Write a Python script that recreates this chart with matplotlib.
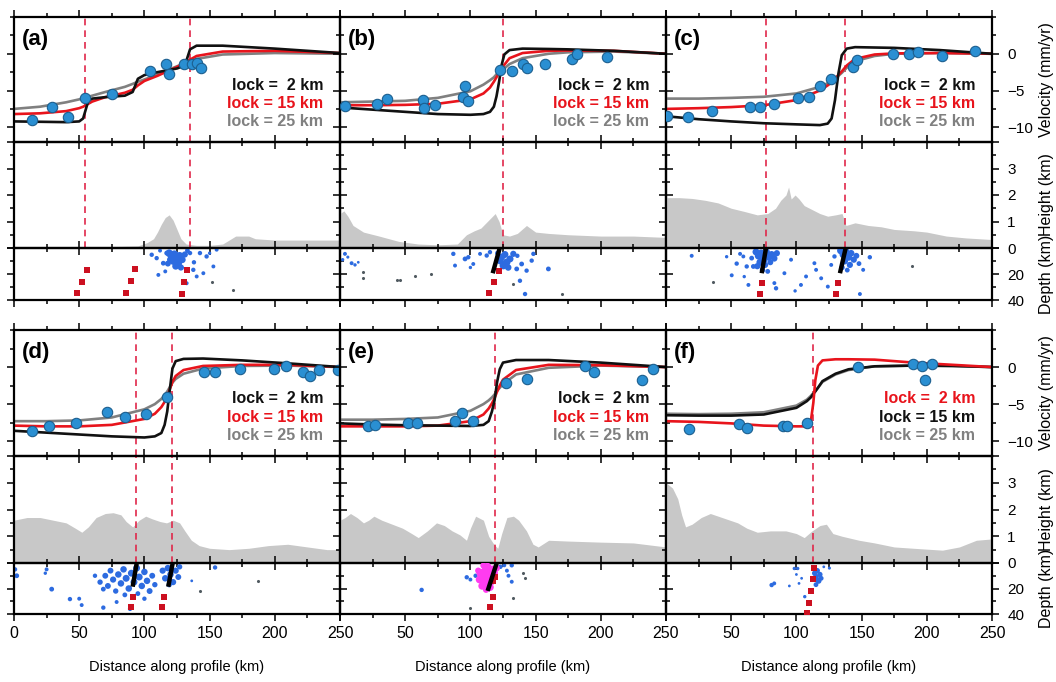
import matplotlib
matplotlib.use("Agg")
import matplotlib.pyplot as plt
from matplotlib.ticker import MultipleLocator, FixedLocator, FuncFormatter

plt.rcParams['font.family'] = ['Liberation Sans', 'DejaVu Sans']

# ------------------------------------------------------------------
# GPS velocities projected on each profile (distance km, velocity mm/yr)
# ------------------------------------------------------------------
gps_a_x = [13.5, 28.9, 41.7, 54.4, 74.9, 104.3, 116.3, 118.9, 130.6, 136.3, 140.6, 143.2]
gps_a_v = [-9.0, -7.3, -8.6, -6.0, -5.5, -2.3, -1.4, -2.8, -1.4, -1.35, -1.2, -2.0]
gps_b_x = [3.8, 28.1, 35.8, 63.9, 64.7, 72.9, 94.6, 95.9, 98.4, 122.7, 131.7, 140.6, 143.6, 157.2, 177.7, 181.5, 204.5]
gps_b_v = [-7.1, -6.8, -6.2, -6.3, -7.4, -7.0, -5.9, -4.4, -6.4, -2.2, -2.3, -1.35, -2.0, -1.45, -0.7, 0.0, -0.45]
gps_c_x = [0.5, 17.1, 35.0, 64.4, 72.1, 83.1, 101.5, 109.7, 118.1, 126.3, 143.7, 146.2, 174.3, 186.6, 193.5, 211.4, 237.0]
gps_c_v = [-8.5, -8.6, -7.8, -7.2, -7.2, -6.9, -5.95, -5.85, -4.4, -3.4, -1.8, -0.9, -0.1, -0.1, 0.2, -0.25, 0.35]
gps_d_x = [13.6, 27.1, 47.5, 71.1, 85.1, 101.2, 117.6, 145.7, 154.1, 173.3, 199.4, 208.6, 221.9, 227.0, 234.1, 248.7]
gps_d_v = [-8.6, -7.9, -7.5, -6.0, -6.7, -6.4, -4.1, -0.6, -0.6, -0.3, -0.25, 0.2, -0.6, -1.15, -0.45, -0.45]
gps_e_x = [21.7, 26.8, 52.4, 58.8, 88.2, 93.3, 102.2, 127.3, 143.2, 187.9, 194.8, 231.3, 239.8]
gps_e_v = [-7.9, -7.75, -7.6, -7.5, -7.3, -6.2, -7.3, -2.15, -1.6, 0.1, -0.6, -1.8, -0.3]
gps_f_x = [17.9, 56.2, 61.9, 89.5, 92.5, 107.9, 147.5, 189.7, 196.1, 198.6, 203.7]
gps_f_v = [-8.4, -7.65, -8.2, -7.9, -8.0, -7.5, -0.05, 0.4, 0.1, -1.7, 0.4]

# ------------------------------------------------------------------
# Model velocity profiles for locking depths 2, 15 and 25 km
# ------------------------------------------------------------------
a_x = [0, 20, 40, 50, 53, 55, 57, 60, 70, 85, 91, 93, 95, 100, 110, 125, 131, 133, 135, 140, 160, 200, 250]
a_lock2 = [-9.2, -9.25, -9.3, -9.2, -8.8, -7.6, -6.4, -6.1, -5.9, -5.7, -5.2, -4.3, -3.4, -2.9, -2.5, -2.0, -1.6, -0.5, 0.6, 1.1, 1.1, 0.7, 0.1]
a_lock15 = [-8.2, -8.1, -7.8, -7.4, -7.2, -7.0, -6.8, -6.5, -5.9, -5.3, -4.9, -4.6, -4.3, -3.7, -3.0, -1.8, -1.2, -1.0, -0.8, -0.3, 0.3, 0.4, 0.1]
a_lock25 = [-7.5, -7.2, -6.6, -6.2, -6.05, -5.95, -5.85, -5.7, -5.2, -4.5, -4.1, -3.95, -3.8, -3.5, -2.8, -1.7, -1.3, -1.1, -1.0, -0.7, -0.1, 0.1, 0.0]

b_x = [0, 25, 50, 75, 100, 110, 115, 118, 120, 122, 124, 126, 130, 140, 160, 175, 210, 250]
b_lock2 = [-7.3, -7.6, -7.9, -8.2, -8.3, -8.2, -7.9, -7.2, -5.8, -3.8, -1.5, -0.1, 0.5, 0.7, 0.65, 0.6, 0.4, 0.0]
b_lock15 = [-7.0, -7.0, -6.95, -6.8, -6.2, -5.4, -4.6, -3.8, -3.2, -2.6, -2.0, -1.5, -0.6, 0.1, 0.4, 0.45, 0.4, 0.0]
b_lock25 = [-6.6, -6.5, -6.4, -6.0, -5.1, -4.2, -3.6, -3.2, -2.8, -2.5, -2.3, -2.0, -1.4, -0.6, 0.0, 0.2, 0.3, 0.0]

c_x = [0, 25, 50, 75, 100, 118, 124, 127, 129.6, 132.2, 134.8, 138.6, 145, 160, 175, 210, 250]
c_lock2 = [-8.5, -8.9, -9.2, -9.45, -9.6, -9.7, -9.5, -8.8, -6.3, -2.7, -0.2, 0.7, 0.9, 0.85, 0.8, 0.5, 0.0]
c_lock15 = [-7.5, -7.4, -7.25, -7.0, -6.3, -5.0, -4.3, -3.9, -3.4, -2.9, -2.4, -1.6, -0.7, -0.1, 0.05, 0.1, 0.0]
c_lock25 = [-6.1, -6.1, -6.0, -5.85, -5.4, -4.5, -4.0, -3.7, -3.4, -3.0, -2.6, -1.9, -1.0, -0.3, 0.0, 0.1, 0.0]

d_x = [0, 25, 50, 75, 100, 108, 113, 115.5, 117.5, 119.5, 121.5, 124, 130, 145, 175, 210, 250]
d_lock2 = [-8.6, -8.85, -9.1, -9.35, -9.5, -9.35, -8.9, -7.8, -6.0, -3.0, -0.2, 0.8, 1.1, 1.15, 0.9, 0.5, 0.0]
d_lock15 = [-7.9, -8.0, -8.0, -7.8, -7.0, -6.3, -5.4, -4.7, -4.0, -3.0, -2.0, -1.2, -0.4, 0.15, 0.3, 0.3, 0.0]
d_lock25 = [-7.3, -7.3, -7.2, -6.8, -5.7, -5.0, -4.3, -3.8, -3.3, -2.7, -2.1, -1.6, -0.9, -0.2, 0.15, 0.2, 0.0]

e_x = [0, 25, 50, 75, 100, 110, 114, 116.5, 118.5, 120.5, 122.5, 125, 135, 160, 200, 250]
e_lock2 = [-7.6, -7.75, -7.85, -7.9, -7.95, -7.8, -7.3, -6.0, -4.5, -2.0, -0.3, 0.6, 0.95, 0.95, 0.6, 0.0]
e_lock15 = [-8.0, -8.0, -8.0, -7.9, -7.3, -6.4, -5.6, -4.9, -4.2, -3.3, -2.5, -1.7, -0.4, 0.3, 0.25, 0.0]
e_lock25 = [-7.1, -7.1, -7.0, -6.8, -5.9, -5.0, -4.5, -4.1, -3.7, -3.2, -2.8, -2.3, -1.0, -0.1, 0.2, 0.0]

f_x = [0, 25, 50, 75, 100, 108, 111, 113, 114.5, 116.5, 120, 130, 140, 160, 190, 220, 250]
f_lock2 = [-7.3, -7.4, -7.6, -7.9, -8.0, -8.0, -7.4, -4.8, -1.8, 0.2, 0.9, 1.05, 1.05, 1.0, 0.6, 0.3, 0.0]
f_lock15 = [-6.5, -6.55, -6.55, -6.4, -5.5, -4.6, -4.1, -3.6, -3.3, -2.8, -1.9, -0.9, -0.3, 0.1, 0.2, 0.15, 0.0]
f_lock25 = [-6.3, -6.35, -6.3, -6.1, -5.2, -4.4, -3.9, -3.5, -3.2, -2.8, -2.0, -1.0, -0.4, 0.1, 0.2, 0.15, 0.0]

# Surface traces of the faults (km along profile)
dash_a = [54.4, 135.0]
dash_b = [125.3]
dash_c = [76.4, 137.5]
dash_d = [93.6, 121.4]
dash_e = [118.9]
dash_f = [113.0]

# ------------------------------------------------------------------
# Topography along each profile (distance km, height km)
# ------------------------------------------------------------------
topo_a_x = [0, 20, 40, 60, 80, 95, 102, 107, 110, 113, 116, 119, 122, 125, 128, 132, 140, 150, 160, 165, 170, 180, 185, 200, 225, 250]
topo_a_h = [0.05, 0.04, 0.05, 0.05, 0.06, 0.08, 0.2, 0.35, 0.6, 0.9, 1.15, 1.25, 1.05, 0.7, 0.35, 0.15, 0.1, 0.1, 0.15, 0.3, 0.45, 0.45, 0.35, 0.3, 0.3, 0.3]
topo_b_x = [0, 3, 6, 10, 18, 30, 45, 60, 75, 90, 97, 103, 108, 113, 117, 119, 122, 125, 130, 136, 143, 150, 160, 175, 200, 225, 250]
topo_b_h = [1.3, 1.4, 1.2, 0.85, 0.6, 0.45, 0.25, 0.15, 0.12, 0.15, 0.5, 0.65, 0.75, 1.0, 1.2, 1.3, 1.0, 0.5, 0.45, 0.55, 0.85, 0.6, 0.55, 0.5, 0.45, 0.45, 0.4]
topo_c_x = [0, 10, 20, 30, 40, 50, 60, 70, 78, 84, 88, 92, 94, 96, 99, 102, 106, 112, 118, 124, 130, 135, 138, 145, 155, 165, 175, 190, 200, 215, 230, 250]
topo_c_h = [1.9, 1.9, 1.87, 1.8, 1.7, 1.5, 1.38, 1.25, 1.3, 1.5, 1.8, 2.0, 2.3, 1.85, 2.0, 1.85, 1.6, 1.45, 1.3, 1.2, 1.25, 1.3, 0.85, 0.95, 0.85, 0.8, 0.7, 0.65, 0.6, 0.45, 0.38, 0.32]
topo_d_x = [0, 10, 20, 30, 40, 47, 52, 57, 63, 70, 76, 82, 86, 91, 96, 101, 106, 112, 117, 122, 127, 131, 136, 142, 150, 165, 180, 195, 210, 225, 240, 250]
topo_d_h = [1.6, 1.7, 1.7, 1.6, 1.5, 1.3, 1.15, 1.35, 1.7, 1.85, 1.88, 1.8, 1.55, 1.35, 1.6, 1.75, 1.65, 1.55, 1.5, 1.6, 1.5, 1.2, 0.85, 0.65, 0.55, 0.5, 0.55, 0.65, 0.7, 0.6, 0.5, 0.5]
topo_e_x = [0, 4, 8, 13, 18, 22, 26, 32, 40, 48, 55, 60, 67, 74, 80, 86, 92, 97, 100, 104, 110, 114, 118, 121, 124, 128, 133, 137, 143, 148, 152, 160, 175, 200, 225, 250]
topo_e_h = [1.6, 1.7, 1.85, 1.7, 1.5, 1.6, 1.75, 1.6, 1.45, 1.3, 1.1, 0.95, 1.2, 1.5, 1.4, 1.2, 1.05, 0.85, 1.3, 1.75, 1.6, 1.0, 0.7, 0.55, 1.1, 1.7, 1.75, 1.6, 1.2, 0.7, 0.6, 0.85, 0.82, 0.78, 0.75, 0.6]
topo_f_x = [0, 5, 9, 12, 15, 20, 27, 34, 40, 46, 55, 62, 70, 80, 92, 100, 106, 112, 118, 123, 128, 135, 148, 160, 175, 190, 212, 225, 238, 250]
topo_f_h = [3.0, 2.8, 2.4, 1.8, 1.35, 1.45, 1.7, 1.85, 1.75, 1.65, 1.5, 1.3, 1.15, 1.2, 1.2, 1.1, 0.95, 1.2, 1.4, 1.45, 1.1, 1.0, 0.85, 0.75, 0.6, 0.55, 0.48, 0.6, 0.85, 0.9]

# ------------------------------------------------------------------
# Seismicity (distance km, depth km, marker size pt^2)
# ------------------------------------------------------------------
qa_x = [119, 121, 123, 125, 122, 127, 126, 124, 129, 120, 131, 128, 118,
        105.6, 109.4, 110.7, 114.5, 117.1, 112, 135, 137.5, 140.1, 142.6, 145.2, 147.7, 152.9, 155.4, 132.4, 138, 133, 116, 150]
qa_d = [4, 6, 5, 8, 10, 6, 12, 14, 9, 9, 5, 15, 12,
        5.2, 7.8, 20.7, 11.7, 3.9, 2, 3.9, 16.8, 21.9, 3.9, 19.4, 6.5, 14.2, 1.3, 27.1, 11, 2, 18, 4]
qa_s = [30, 35, 35, 35, 30, 30, 28, 25, 25, 25, 20, 20, 18,
        10, 10, 8, 12, 12, 8, 10, 10, 8, 10, 8, 10, 8, 8, 8, 10, 12, 8, 6]
qa_dark_x = [168.2, 151.6]
qa_dark_d = [32.3, 25.8]

qb_x = [3.8, 8.9, 11.5, 2, 6, 14, 86.9, 88.2, 95.9, 98.4, 102.2, 107.4, 112.5, 115, 100,
        122.7, 125.3, 127.8, 130.4, 132.9, 126.5, 124, 129, 121, 135.5, 138, 139.3, 141.9, 143.1, 147, 148.3, 159.8, 136]
qb_d = [4.5, 11.7, 13, 9, 7, 11, 4.5, 13.5, 8.4, 7.1, 12.3, 4.5, 5.8, 3.2, 15,
        9.7, 13.5, 11, 8.4, 4.5, 5, 7, 15, 4, 16.1, 25.2, 12.3, 35.4, 17.4, 9.7, 4.5, 16.1, 6]
qb_s = [8, 8, 6, 6, 5, 4, 10, 8, 12, 10, 8, 8, 10, 10, 6,
        28, 30, 30, 25, 20, 25, 25, 22, 15, 12, 10, 12, 10, 10, 10, 10, 12, 10]
qb_dark_x = [17.9, 17.9, 43.5, 46, 57.5, 70, 170, 132.9]
qb_dark_d = [18.1, 23.3, 24.6, 24.6, 21.4, 20, 35.4, 27.8]

qc_x = [19.7, 46.5, 50.4, 54.2, 56.8, 59.3, 61.9, 63.2, 65.7, 67,
        69, 71, 73, 75, 72, 77, 79, 81, 83, 85, 70, 76, 80, 74, 78,
        84.4, 83.1, 90.8, 95.9, 103.5, 107.4, 113.8, 115.1, 119, 124.1, 126.7, 129.2,
        134, 136, 138, 140, 137, 142, 144, 141, 135, 146, 139, 148,
        148.7, 156.3, 151.2, 60, 99]
qc_d = [6, 6.7, 21, 12, 4.5, 6.5, 14.2, 28.4, 7.8, 14.2,
        3, 6, 4, 9, 11, 3, 7, 5, 8, 4, 14, 13, 11, 17, 18,
        31, 27, 19.4, 9, 28.4, 21.9, 11.7, 16.8, 23.3, 29.7, 13, 6.5,
        2, 5, 3, 7, 10, 4, 9, 13, 15, 6, 17, 12,
        35.4, 7.1, 16.8, 22, 33]
qc_s = [8, 6, 8, 10, 8, 8, 10, 8, 12, 12,
        25, 30, 28, 30, 25, 25, 25, 25, 22, 20, 20, 20, 18, 15, 12,
        10, 8, 8, 8, 8, 8, 8, 8, 8, 8, 8, 10,
        28, 30, 28, 28, 25, 22, 20, 20, 15, 18, 12, 12,
        8, 10, 8, 6, 6]
qc_dark_x = [36.3, 188.5]
qc_dark_d = [26, 14.2]

qd_x = [0.8, 2.1, 25, 24, 28.9, 42.9, 51.9, 50, 62.1, 68.5, 68.5,
        66, 70, 72, 74, 76, 78, 80, 82, 84, 86, 88, 90, 92, 94, 96, 98, 100, 102, 104, 106, 108, 85, 95, 78.7, 100, 89,
        114, 116, 118, 120, 122, 124, 126, 127, 119, 154.2, 136.3]
qd_d = [5, 10, 5, 8, 20.5, 28.3, 33, 28, 10, 35, 20.5,
        15, 10, 18, 6, 13, 22, 9, 16, 5, 12, 20, 8, 15, 4, 11, 18, 7, 14, 22, 10, 17, 25, 24, 30.6, 28, 36,
        6, 12, 4, 9, 15, 6, 11, 3, 17, 3.5, 14]
qd_s = [10, 12, 8, 6, 12, 10, 8, 8, 10, 10, 12,
        15, 18, 18, 18, 20, 15, 22, 22, 22, 25, 22, 25, 25, 25, 25, 22, 22, 22, 18, 18, 15, 12, 12, 8, 10, 10,
        20, 22, 22, 22, 20, 20, 18, 15, 15, 10, 4]
qd_dark_x = [142.6, 187.4]
qd_dark_d = [22, 14.4]

qe_mag_x = [108, 110, 112, 114, 111, 116, 113, 109, 118, 107, 115, 120, 112, 117, 106, 110]
qe_mag_d = [8, 12, 6, 10, 16, 14, 3, 18, 8, 13, 19, 4, 21, 5, 6, 2]
qe_mag_s = [40, 45, 45, 45, 40, 40, 35, 30, 35, 30, 30, 25, 20, 30, 20, 20]
qe_red_x = [117, 119]
qe_red_d = [14, 11]
qe_x = [97.2, 100, 104, 123, 126, 131.7, 129.2, 131.7, 128, 62.6]
qe_d = [11.2, 13, 10, 3, 1.8, 1.8, 10, 14.7, 6, 21.1]
qe_s = [10, 8, 10, 10, 8, 10, 8, 8, 8, 10]
qe_dark_x = [140.6, 141.5, 133, 99.7]
qe_dark_d = [8, 12, 27.6, 35.3]

qf_x = [81, 83, 98.4, 101, 100, 104, 106.4, 94.6, 102,
        114, 115, 116, 117, 118, 115, 119, 113, 125.3, 121]
qf_d = [17.3, 16, 4.3, 4.3, 9, 12, 26.4, 18, 16,
        8, 11, 6, 14, 9, 17, 12, 13, 4, 3]
qf_s = [10, 8, 6, 6, 4, 4, 6, 4, 4,
        15, 18, 15, 18, 15, 12, 12, 10, 5, 4]

# Fault geometry: locked (black) segments as (x_top, depth_top, x_bottom, depth_bottom)
lock_a = []
lock_b = [(122.5, 0.0, 117.1, 19.4)]
lock_c = [(76.7, 0.0, 73.4, 19.4), (137.8, 0.0, 133.4, 19.4)]
lock_d = [(94.1, 0.0, 91.0, 18.6), (121.7, 0.0, 118.3, 18.6)]
lock_e = [(120.2, 0.0, 113.2, 21.9)]
lock_f = []
# Creeping fault patches at depth (distance km, depth km)
creep_a_x = [56.2, 52.2, 48.1, 92.8, 89.4, 85.9, 132.4, 130.5, 128.6]
creep_a_d = [16.8, 25.8, 34.9, 16.3, 25.6, 34.9, 16.8, 26.1, 35.4]
creep_b_x = [122.3, 118.1, 114.5]
creep_b_d = [17.4, 25.9, 34.4]
creep_c_x = [73.9, 72.1, 132.2, 130.4]
creep_c_d = [26.6, 35.1, 26.9, 35.1]
creep_d_x = [91.0, 89.5, 115.3, 113.7]
creep_d_d = [26.4, 34.9, 26.4, 34.9]
creep_e_x = [117.0, 115.4]
creep_e_d = [26.4, 34.9]
creep_f_x = [113.5, 112.5, 111.0, 109.7, 107.9]
creep_f_d = [4.3, 12.9, 21.6, 31.0, 39.0]

BLACK = '#111111'
RED = '#e8141c'
GRAY = '#808080'
BLUE_GPS = '#2a8fd2'
BLUE_EQ = '#2d6be0'
TOPO = '#c8c8c8'
DASH = '#e0284a'
CREEP = '#cc1020'

panels = [
    dict(tag='(a)', gx=gps_a_x, gv=gps_a_v, cx=a_x, curves=(a_lock2, a_lock15, a_lock25), cols=(BLACK, RED, GRAY),
         dash=dash_a, tx=topo_a_x, th=topo_a_h, q=(qa_x, qa_d, qa_s), qd=(qa_dark_x, qa_dark_d),
         lock=lock_a, creep=(creep_a_x, creep_a_d)),
    dict(tag='(b)', gx=gps_b_x, gv=gps_b_v, cx=b_x, curves=(b_lock2, b_lock15, b_lock25), cols=(BLACK, RED, GRAY),
         dash=dash_b, tx=topo_b_x, th=topo_b_h, q=(qb_x, qb_d, qb_s), qd=(qb_dark_x, qb_dark_d),
         lock=lock_b, creep=(creep_b_x, creep_b_d)),
    dict(tag='(c)', gx=gps_c_x, gv=gps_c_v, cx=c_x, curves=(c_lock2, c_lock15, c_lock25), cols=(BLACK, RED, GRAY),
         dash=dash_c, tx=topo_c_x, th=topo_c_h, q=(qc_x, qc_d, qc_s), qd=(qc_dark_x, qc_dark_d),
         lock=lock_c, creep=(creep_c_x, creep_c_d)),
    dict(tag='(d)', gx=gps_d_x, gv=gps_d_v, cx=d_x, curves=(d_lock2, d_lock15, d_lock25), cols=(BLACK, RED, GRAY),
         dash=dash_d, tx=topo_d_x, th=topo_d_h, q=(qd_x, qd_d, qd_s), qd=(qd_dark_x, qd_dark_d),
         lock=lock_d, creep=(creep_d_x, creep_d_d)),
    dict(tag='(e)', gx=gps_e_x, gv=gps_e_v, cx=e_x, curves=(e_lock2, e_lock15, e_lock25), cols=(BLACK, RED, GRAY),
         dash=dash_e, tx=topo_e_x, th=topo_e_h, q=(qe_x, qe_d, qe_s), qd=(qe_dark_x, qe_dark_d),
         lock=lock_e, creep=(creep_e_x, creep_e_d)),
    dict(tag='(f)', gx=gps_f_x, gv=gps_f_v, cx=f_x, curves=(f_lock2, f_lock15, f_lock25), cols=(RED, BLACK, GRAY),
         dash=dash_f, tx=topo_f_x, th=topo_f_h, q=(qf_x, qf_d, qf_s), qd=([], []),
         lock=lock_f, creep=(creep_f_x, creep_f_d)),
]
lock_labels = ['lock =  2 km', 'lock = 15 km', 'lock = 25 km']

W, H = 1056, 682
col_left = [14, 340, 666]
col_width = 326
# pixel rows: (velocity top, velocity bottom/height top, height bottom/depth top, depth bottom)
row_px = [(17, 142, 248, 300), (330, 456, 563, 614)]


def box(x0, y0, y1):
    return [x0 / W, 1 - y1 / H, col_width / W, (y1 - y0) / H]


def frame(ax):
    for s in ax.spines.values():
        s.set_linewidth(1.6)
    ax.set_facecolor('none')
    ax.tick_params(which='both', direction='out', top=True, right=True, bottom=True, left=True,
                   labelbottom=False, labelleft=False, labeltop=False, labelright=False,
                   width=1.1, labelsize=11.5)
    ax.tick_params(which='major', length=5, pad=4)
    ax.tick_params(which='minor', length=3)
    ax.set_xlim(0, 250)
    ax.xaxis.set_major_locator(MultipleLocator(50))
    ax.xaxis.set_minor_locator(MultipleLocator(25))


fig = plt.figure(figsize=(W / 100, H / 100), dpi=100)

for i, p in enumerate(panels):
    r, c = divmod(i, 3)
    y_v0, y_v1, y_h1, y_d1 = row_px[r]
    x0 = col_left[c]

    # --- velocity profile ---
    axv = fig.add_axes(box(x0, y_v0, y_v1))
    frame(axv)
    axv.set_ylim(-12, 5)
    axv.yaxis.set_major_locator(FixedLocator([-10, -5, 0]))
    axv.yaxis.set_minor_locator(MultipleLocator(2.5))
    for xf in p['dash']:
        axv.axvline(xf, color=DASH, lw=1.2, ls=(0, (4, 3)), zorder=1)
    for k in (2, 1, 0):
        axv.plot(p['cx'], p['curves'][k], color=p['cols'][k], lw=1.9, zorder=2 + (2 - k) * 0.1)
    axv.scatter(p['gx'], p['gv'], s=56, facecolor=BLUE_GPS, edgecolor='#1c5f8f', linewidth=0.8, zorder=5)
    axv.text(0.025, 0.82, p['tag'], transform=axv.transAxes, fontsize=16, fontweight='bold',
             ha='left', va='center')
    for k, yv in enumerate([-4.3, -6.75, -9.25]):
        axv.text(237, yv, lock_labels[k], color=p['cols'][k], fontsize=11.5, fontweight='bold',
                 ha='right', va='center', zorder=6)

    # --- topography ---
    axh = fig.add_axes(box(x0, y_v1, y_h1))
    frame(axh)
    axh.set_ylim(0, 4)
    axh.yaxis.set_major_locator(MultipleLocator(1))
    axh.yaxis.set_minor_locator(MultipleLocator(0.5))
    axh.fill_between(p['tx'], 0, p['th'], color=TOPO, lw=0, zorder=1)
    for xf in p['dash']:
        axh.axvline(xf, color=DASH, lw=1.2, ls=(0, (4, 3)), zorder=2)

    # --- seismicity and fault geometry ---
    axd = fig.add_axes(box(x0, y_h1, y_d1))
    frame(axd)
    axd.set_ylim(40, 0)
    axd.yaxis.set_major_locator(MultipleLocator(20))
    axd.yaxis.set_minor_locator(MultipleLocator(10))
    qx, qdp, qs = p['q']
    axd.scatter(qx, qdp, s=qs, color=BLUE_EQ, lw=0, zorder=2)
    axd.scatter(p['qd'][0], p['qd'][1], s=5, color='#505a60', lw=0, zorder=2)
    if p['tag'] == '(e)':
        axd.scatter(qe_mag_x, qe_mag_d, s=qe_mag_s, color='#ff3cf0', lw=0, zorder=3)
        axd.scatter(qe_red_x, qe_red_d, s=16, color=CREEP, marker='s', lw=0, zorder=3)
    axd.scatter(p['creep'][0], p['creep'][1], s=24, color=CREEP, marker='s', lw=0, zorder=4)
    for (xa, da, xb, db) in p['lock']:
        axd.plot([xa, xb], [da, db], color='black', lw=3.2, solid_capstyle='butt', zorder=5)

    if r == 1:
        axd.tick_params(labelbottom=True)
        if c > 0:
            axd.xaxis.set_major_formatter(FuncFormatter(lambda v, _: '' if v == 0 else f'{v:.0f}'))
        else:
            axd.xaxis.set_major_formatter(FuncFormatter(lambda v, _: f'{v:.0f}'))
        fig.text((x0 + col_width / 2) / W, 1 - 667 / H, 'Distance along profile (km)',
                 ha='center', va='center', fontsize=10.5)
    if c == 2:
        for ax_ in (axv, axh, axd):
            ax_.tick_params(axis='y', which='major', labelright=True, pad=6, labelsize=11)
        axh.yaxis.set_major_formatter(FuncFormatter(lambda v, _: f'{v:.0f}' if 0 < v < 4 else ''))
        for (ya, yb, lab) in [(y_v0, y_v1, 'Velocity (mm/yr)'), (y_v1, y_h1, 'Height (km)'),
                              (y_h1, y_d1, 'Depth (km)')]:
            fig.text(1047 / W, 1 - (ya + yb) / 2 / H, lab, rotation=90, ha='center', va='center',
                     fontsize=11.5)

fig.savefig('out.png', dpi=100, facecolor='white')
